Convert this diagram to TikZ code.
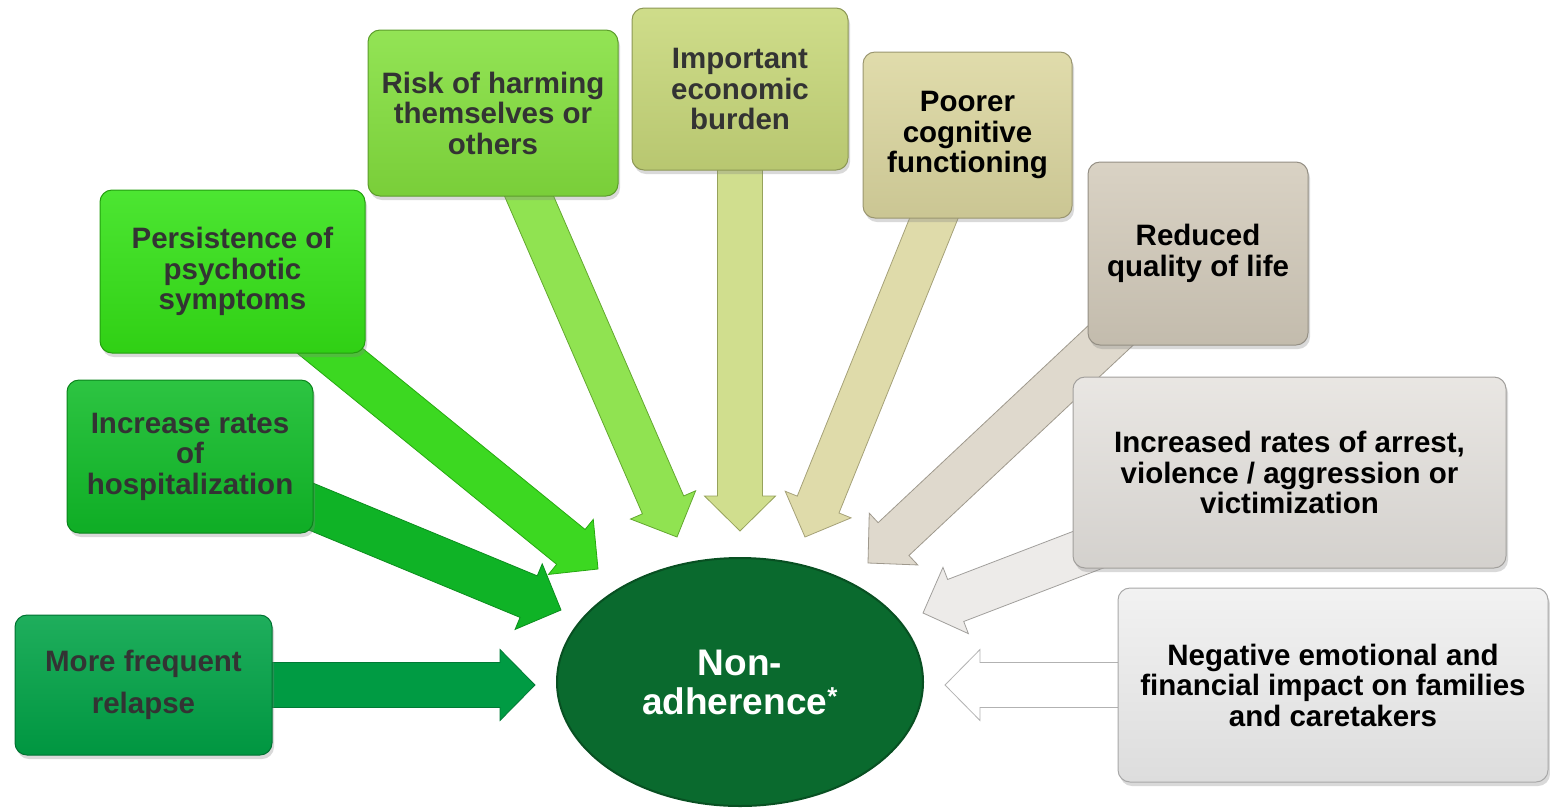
\documentclass[tikz,border=0pt]{standalone}
\usepackage{fontspec}
\setmainfont{Liberation Sans}
\usetikzlibrary{calc,shapes.geometric,shadows,backgrounds}
\definecolor{R}{RGB}{0,163,70}
\definecolor{H}{RGB}{16,188,40}
\definecolor{P}{RGB}{52,226,22}
\definecolor{K}{RGB}{132,224,62}
\definecolor{E}{RGB}{200,216,122}
\definecolor{C}{RGB}{220,215,160}
\definecolor{Q}{RGB}{212,204,188}
\definecolor{A}{RGB}{230,227,223}
\definecolor{F}{RGB}{240,240,240}
\definecolor{N}{RGB}{10,106,46}
\definecolor{txt}{RGB}{51,51,51}
\newcommand{\blockarrow}[4]{%
  \coordinate (ba-s) at (#1);
  \coordinate (ba-t) at (#2);
  \coordinate (ba-h) at ($(ba-t)!35pt!(ba-s)$);
  \filldraw[fill=#3, draw=#4, line width=.8pt]
    ($(ba-s)!22.5pt!90:(ba-t)$) -- ($(ba-h)!22.5pt!90:(ba-t)$)
    -- ($(ba-h)!35.5pt!90:(ba-t)$) -- (ba-t)
    -- ($(ba-h)!35.5pt!-90:(ba-t)$) -- ($(ba-h)!22.5pt!-90:(ba-t)$)
    -- ($(ba-s)!22.5pt!-90:(ba-t)$) -- cycle;
}
\tikzset{
  box/.style={draw=#1!70!black, line width=1pt, top color=#1!88!white,
    bottom color=#1!92!black, rounded corners=12pt, align=center, inner sep=0pt,
    font=\fontsize{29.5}{30.5}\selectfont\bfseries,
    drop shadow={shadow xshift=2pt, shadow yshift=-4pt, opacity=.3}},
}

\begin{document}
\begin{tikzpicture}[x=1pt,y=-1pt]
\useasboundingbox (0,0) rectangle (1550,807);
\node[box=R, minimum width=257pt, minimum height=140pt, text=txt, font=\fontsize{29.5}{42}\selectfont\bfseries] (relapse) at (143.5,685) {More frequent\\relapse};
\node[box=H, minimum width=246pt, minimum height=153pt, text=txt] (hosp) at (190,456.5) {Increase rates\\of\\hospitalization};
\node[box=P, minimum width=265pt, minimum height=163pt, text=txt] (persist) at (232.5,271.5) {Persistence of\\psychotic\\symptoms};
\node[box=K, minimum width=250pt, minimum height=166pt, text=txt] (harm) at (493,113) {Risk of harming\\themselves or\\others};
\node[box=E, minimum width=216pt, minimum height=162pt, text=txt] (econ) at (740,89) {Important\\economic\\burden};
\node[box=C, minimum width=209pt, minimum height=166pt, text=black] (cogn) at (967.5,135) {Poorer\\cognitive\\functioning};
\node[box=Q, minimum width=220pt, minimum height=183pt, text=black] (qol) at (1198,253.5) {Reduced\\quality of life};
\node[box=A, minimum width=433pt, minimum height=191pt, text=black] (arrest) at (1289.5,472.5) {Increased rates of arrest,\\violence / aggression or\\victimization};
\node[box=F, minimum width=430pt, minimum height=194pt, text=black] (family) at (1333,685) {Negative emotional and\\financial impact on families\\and caretakers};
\node[ellipse, fill=N, draw=N!75!black, line width=2pt, minimum width=366pt, minimum height=248pt,
  text=white, align=center, font=\fontsize{37}{39}\selectfont\bfseries] (nonadh) at (740,682) {Non-\\adherence\textsuperscript{*}};
\coordinate (t1) at (535,685);
\coordinate (t2) at (561,610);
\coordinate (t3) at (598,569);
\coordinate (t4) at (677,537);
\coordinate (t5) at (740,531);
\coordinate (t6) at (805,537);
\coordinate (t7) at (868,563);
\coordinate (t8) at (923,613);
\coordinate (t9) at (945,685);
\begin{scope}[on background layer]
\blockarrow{relapse}{t1}{R!95!black}{R!75!black}
\blockarrow{hosp}{t2}{H!95!black}{H!75!black}
\blockarrow{persist}{t3}{P!90!gray}{P!75!black}
\blockarrow{harm}{t4}{K!90!white}{K!75!black}
\blockarrow{econ}{t5}{E!85!white}{E!75!black}
\blockarrow{cogn}{t6}{C!90!white}{C!75!black}
\blockarrow{qol}{t7}{Q!75!white}{Q!75!black}
\blockarrow{arrest}{t8}{A!70!white}{A!70!black}
\blockarrow{family}{t9}{white}{gray!60}
\end{scope}
\end{tikzpicture}
\end{document}
